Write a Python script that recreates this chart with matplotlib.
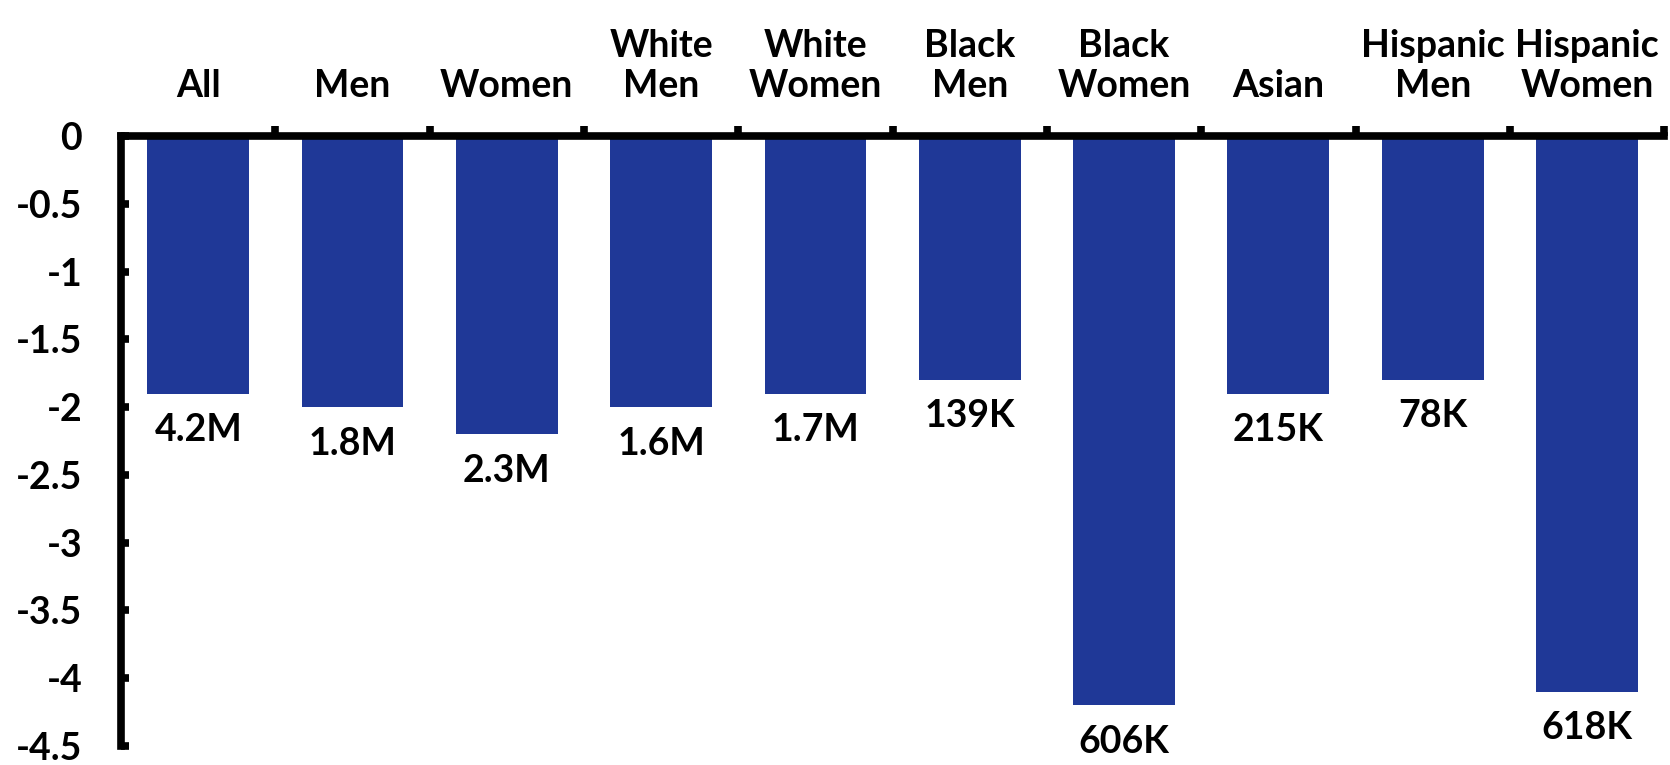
import matplotlib.pyplot as plt
import numpy as np

# chart data
categories = [
    "All", "Men", "Women", "White\nMen", "White\nWomen",
    "Black\nMen", "Black\nWomen", "Asian", "Hispanic\nMen", "Hispanic\nWomen",
]
values = [-1.9, -2.0, -2.2, -2.0, -1.9, -1.8, -4.2, -1.9, -1.8, -4.1]
value_labels = ["4.2M", "1.8M", "2.3M", "1.6M", "1.7M", "139K", "606K", "215K", "78K", "618K"]
y_ticks = [0, -0.5, -1, -1.5, -2, -2.5, -3, -3.5, -4, -4.5]
y_tick_labels = ["0", "-0.5", "-1", "-1.5", "-2", "-2.5", "-3", "-3.5", "-4", "-4.5"]

BAR_COLOR = "#1f3897"
FONT = ["Lato", "DejaVu Sans"]
FS = 27

plt.rcParams["font.family"] = FONT
plt.rcParams["font.weight"] = "bold"

fig = plt.figure(figsize=(16.7, 7.65), dpi=100)
ax = fig.add_axes([0.0725, 0.025, 0.924, 0.797])

x = np.arange(len(categories))
ax.bar(x, values, width=0.66, color=BAR_COLOR)

for xi, v, lbl in zip(x, values, value_labels):
    ax.annotate(lbl, (xi, v), xytext=(0, -14), textcoords="offset points",
                ha="center", va="top", fontsize=FS, fontweight="bold")

ax.set_xlim(-0.5, len(categories) - 0.5)
ax.set_ylim(-4.5, 0)

# spines: only the zero line (top) and the y axis
for side in ("bottom", "right"):
    ax.spines[side].set_visible(False)
for side in ("top", "left"):
    ax.spines[side].set_linewidth(5.5)
    ax.spines[side].set_capstyle("projecting")

# category labels above the zero line, tick marks between categories
ax.xaxis.tick_top()
ax.set_xticks(x)
ax.set_xticklabels(categories, fontsize=FS, fontweight="bold", linespacing=1.2)
ax.set_xticks(x + 0.5, minor=True)
ax.tick_params(axis="x", which="major", length=0, pad=24)
ax.tick_params(axis="x", which="minor", direction="out", length=7, width=5.5)

ax.set_yticks(y_ticks)
ax.set_yticklabels(y_tick_labels, fontsize=FS, fontweight="bold")
ax.tick_params(axis="y", direction="in", length=6, width=5.5, pad=28)

fig.savefig("out.png", dpi=100)
